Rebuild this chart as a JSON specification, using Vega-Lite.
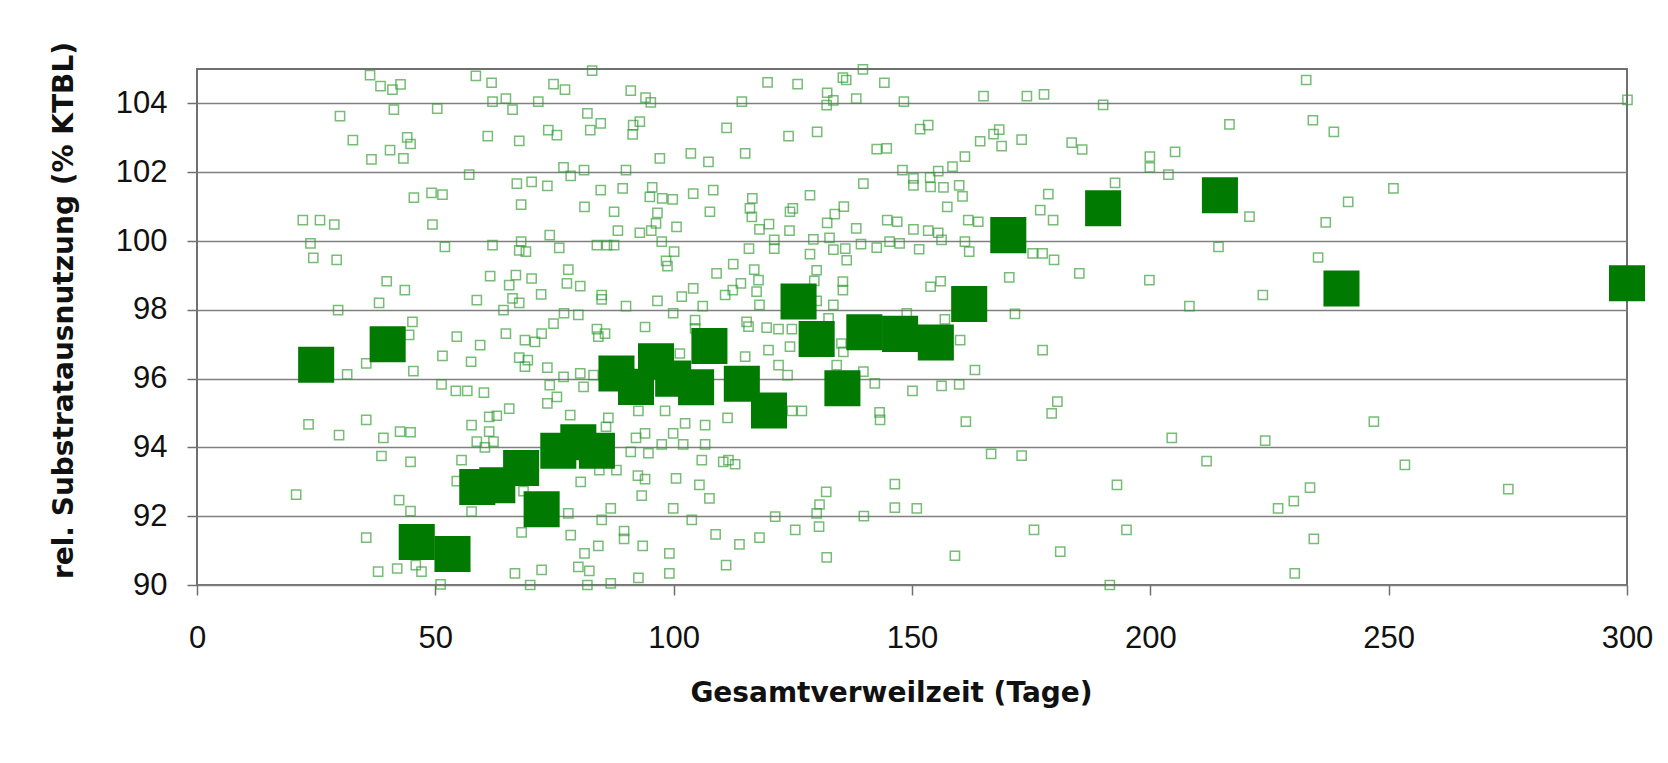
{
  "$schema": "https://vega.github.io/schema/vega-lite/v6.json",
  "width": 1430,
  "height": 516,
  "autosize": "none",
  "padding": {"left": 197, "top": 69, "right": 41, "bottom": 178},
  "background": "white",
  "config": {
    "view": {"stroke": "#707070", "strokeWidth": 2},
    "axis": {
      "labelFont": "Liberation Sans",
      "labelFontSize": 31,
      "labelColor": "#111111",
      "labelFlush": false,
      "labelOverlap": false,
      "titleFont": "DejaVu Sans",
      "titleFontSize": 28,
      "titleFontWeight": "bold",
      "titleColor": "#111111",
      "domain": false,
      "tickColor": "#707070",
      "tickWidth": 1.5,
      "tickSize": 10
    }
  },
  "datasets": {
    "einzel": [
      {"x":36.3,"y":104.82},{"x":38.5,"y":104.5},{"x":41.0,"y":104.4},{"x":42.7,"y":104.55},{"x":58.5,"y":104.8},{"x":61.8,"y":104.6},{"x":74.8,"y":104.56},{"x":30.0,"y":103.63},{"x":41.3,"y":103.82},{"x":50.4,"y":103.85},{"x":62.0,"y":104.05},{"x":64.8,"y":104.14},{"x":66.2,"y":103.82},{"x":71.6,"y":104.05},{"x":32.7,"y":102.93},{"x":44.1,"y":103.01},{"x":44.8,"y":102.82},{"x":40.5,"y":102.64},{"x":43.3,"y":102.4},{"x":36.6,"y":102.37},{"x":61.0,"y":103.05},{"x":67.6,"y":102.91},{"x":73.7,"y":103.22},{"x":57.1,"y":101.93},{"x":67.1,"y":101.67},{"x":70.2,"y":101.72},{"x":73.5,"y":101.6},{"x":45.5,"y":101.26},{"x":49.2,"y":101.4},{"x":51.5,"y":101.35},{"x":68.0,"y":101.06},{"x":22.2,"y":100.61},{"x":25.8,"y":100.61},{"x":28.8,"y":100.48},{"x":49.4,"y":100.48},{"x":23.8,"y":99.93},{"x":24.4,"y":99.51},{"x":29.3,"y":99.45},{"x":52.0,"y":99.83},{"x":62.0,"y":99.88},{"x":68.0,"y":99.98},{"x":67.6,"y":99.73},{"x":69.0,"y":99.69},{"x":74.0,"y":100.17},{"x":39.8,"y":98.83},{"x":43.6,"y":98.57},{"x":61.5,"y":98.98},{"x":66.9,"y":99.01},{"x":65.5,"y":98.72},{"x":70.2,"y":98.91},{"x":72.2,"y":98.45},{"x":58.7,"y":98.28},{"x":66.2,"y":98.33},{"x":67.6,"y":98.2},{"x":64.3,"y":97.99},{"x":38.2,"y":98.2},{"x":29.6,"y":97.99},{"x":45.2,"y":97.65},{"x":74.8,"y":97.6},
      {"x":82.9,"y":104.95},{"x":77.2,"y":104.4},{"x":91.0,"y":104.37},{"x":94.1,"y":104.17},{"x":95.2,"y":104.03},{"x":119.7,"y":104.61},{"x":126.0,"y":104.56},{"x":135.5,"y":104.75},{"x":136.2,"y":104.68},{"x":139.7,"y":104.99},{"x":144.2,"y":104.6},{"x":132.2,"y":104.31},{"x":133.5,"y":104.09},{"x":132.1,"y":103.95},{"x":138.3,"y":104.14},{"x":148.3,"y":104.05},{"x":114.3,"y":104.05},{"x":81.9,"y":103.71},{"x":82.5,"y":103.22},{"x":84.7,"y":103.42},{"x":75.5,"y":103.08},{"x":91.4,"y":103.1},{"x":91.5,"y":103.37},{"x":92.9,"y":103.47},{"x":111.1,"y":103.29},{"x":124.1,"y":103.05},{"x":130.1,"y":103.17},{"x":97.1,"y":102.4},{"x":103.6,"y":102.55},{"x":107.3,"y":102.3},{"x":115.0,"y":102.55},{"x":142.6,"y":102.67},{"x":144.7,"y":102.69},{"x":76.9,"y":102.14},{"x":78.4,"y":101.89},{"x":81.2,"y":102.06},{"x":90.0,"y":102.06},{"x":148.0,"y":102.06},{"x":84.7,"y":101.48},{"x":89.3,"y":101.53},{"x":95.5,"y":101.56},{"x":104.1,"y":101.38},{"x":108.3,"y":101.48},{"x":116.5,"y":101.24},{"x":128.6,"y":101.33},{"x":139.8,"y":101.67},{"x":81.3,"y":100.99},{"x":87.5,"y":100.85},{"x":95.0,"y":101.28},{"x":97.6,"y":101.24},{"x":99.8,"y":101.21},{"x":96.6,"y":100.82},{"x":107.6,"y":100.85},{"x":116.0,"y":100.95},{"x":116.4,"y":100.7},{"x":124.4,"y":100.85},{"x":125.0,"y":100.95},{"x":88.3,"y":100.3},{"x":92.9,"y":100.24},{"x":95.3,"y":100.3},{"x":96.3,"y":100.51},{"x":100.6,"y":100.41},{"x":118.0,"y":100.34},{"x":120.0,"y":100.49},{"x":124.3,"y":100.3},{"x":132.2,"y":100.53},{"x":133.8,"y":100.78},{"x":135.7,"y":101.0},{"x":138.3,"y":100.37},{"x":144.8,"y":100.61},{"x":146.9,"y":100.56},{"x":76.0,"y":99.8},{"x":83.9,"y":99.88},{"x":86.0,"y":99.88},{"x":87.5,"y":99.88},{"x":97.5,"y":99.98},{"x":100.1,"y":99.69},{"x":98.4,"y":99.42},{"x":98.7,"y":99.27},{"x":115.8,"y":99.78},{"x":121.1,"y":100.03},{"x":121.1,"y":99.78},{"x":128.6,"y":99.62},{"x":129.3,"y":100.05},{"x":132.7,"y":100.09},{"x":133.5,"y":99.75},{"x":136.0,"y":99.78},{"x":136.3,"y":99.44},{"x":139.3,"y":99.91},{"x":142.6,"y":99.81},{"x":145.3,"y":99.98},{"x":147.4,"y":99.93},{"x":77.9,"y":99.17},{"x":77.6,"y":98.77},{"x":80.4,"y":98.69},{"x":84.9,"y":98.43},{"x":84.9,"y":98.3},{"x":90.0,"y":98.11},{"x":96.6,"y":98.26},{"x":101.7,"y":98.38},{"x":104.1,"y":98.62},{"x":106.1,"y":98.11},{"x":109.0,"y":99.06},{"x":112.5,"y":99.33},{"x":110.8,"y":98.43},{"x":112.4,"y":98.57},{"x":114.1,"y":98.77},{"x":116.9,"y":99.17},{"x":117.8,"y":98.86},{"x":117.4,"y":98.53},{"x":118.0,"y":98.14},{"x":130.0,"y":99.15},{"x":129.5,"y":98.84},{"x":130.0,"y":98.26},{"x":133.5,"y":98.14},{"x":135.5,"y":98.82},{"x":135.5,"y":98.57},{"x":77.0,"y":97.9},{"x":80.0,"y":97.85},{"x":99.9,"y":97.9},{"x":104.5,"y":97.7},{"x":115.3,"y":97.65},{"x":148.9,"y":97.9},{"x":132.5,"y":97.75},
      {"x":165.0,"y":104.21},{"x":174.1,"y":104.21},{"x":177.7,"y":104.26},{"x":190.1,"y":103.96},{"x":216.6,"y":103.39},{"x":151.7,"y":103.25},{"x":153.4,"y":103.37},{"x":164.3,"y":102.9},{"x":167.1,"y":103.11},{"x":168.3,"y":103.24},{"x":168.8,"y":102.76},{"x":173.0,"y":102.95},{"x":183.5,"y":102.86},{"x":185.7,"y":102.66},{"x":161.1,"y":102.45},{"x":158.5,"y":102.16},{"x":155.5,"y":102.03},{"x":153.8,"y":101.85},{"x":150.3,"y":101.82},{"x":150.3,"y":101.62},{"x":153.9,"y":101.57},{"x":156.6,"y":101.56},{"x":159.9,"y":101.62},{"x":160.6,"y":101.3},{"x":157.4,"y":100.99},{"x":199.9,"y":102.45},{"x":199.9,"y":102.14},{"x":205.2,"y":102.59},{"x":203.8,"y":101.93},{"x":192.6,"y":101.69},{"x":178.6,"y":101.36},{"x":176.9,"y":100.9},{"x":179.6,"y":100.61},{"x":161.8,"y":100.61},{"x":163.9,"y":100.56},{"x":150.3,"y":100.34},{"x":153.4,"y":100.3},{"x":155.5,"y":100.24},{"x":156.2,"y":100.03},{"x":161.1,"y":99.98},{"x":151.5,"y":99.76},{"x":162.0,"y":99.69},{"x":175.3,"y":99.64},{"x":177.4,"y":99.64},{"x":179.8,"y":99.45},{"x":170.4,"y":98.94},{"x":185.1,"y":99.06},{"x":199.8,"y":98.86},{"x":214.3,"y":99.83},{"x":220.8,"y":100.71},{"x":153.9,"y":98.67},{"x":156.0,"y":98.83},{"x":223.6,"y":98.43},{"x":171.6,"y":97.88},{"x":208.2,"y":98.11},{"x":156.9,"y":97.72},
      {"x":232.7,"y":104.68},{"x":234.1,"y":103.51},{"x":238.5,"y":103.17},{"x":251.0,"y":101.53},{"x":241.5,"y":101.14},{"x":236.8,"y":100.54},{"x":235.2,"y":99.52},{"x":300.1,"y":104.1},
      {"x":44.5,"y":97.27},{"x":54.5,"y":97.22},{"x":59.4,"y":96.97},{"x":64.8,"y":97.31},{"x":68.8,"y":97.12},{"x":70.9,"y":97.07},{"x":72.3,"y":97.31},{"x":51.5,"y":96.66},{"x":57.5,"y":96.49},{"x":67.6,"y":96.61},{"x":69.4,"y":96.54},{"x":68.8,"y":96.35},{"x":73.5,"y":96.32},{"x":35.5,"y":96.44},{"x":31.5,"y":96.12},{"x":45.4,"y":96.22},{"x":51.3,"y":95.83},{"x":54.3,"y":95.64},{"x":56.7,"y":95.64},{"x":60.2,"y":95.59},{"x":74.0,"y":95.81},{"x":73.5,"y":95.28},{"x":65.5,"y":95.13},{"x":62.9,"y":94.92},{"x":61.3,"y":94.89},{"x":57.6,"y":94.65},{"x":61.3,"y":94.46},{"x":62.2,"y":94.17},{"x":58.7,"y":94.17},{"x":60.4,"y":94.0},{"x":23.4,"y":94.67},{"x":35.5,"y":94.8},{"x":29.8,"y":94.36},{"x":39.1,"y":94.28},{"x":42.6,"y":94.46},{"x":44.8,"y":94.44},{"x":38.7,"y":93.75},{"x":44.8,"y":93.58},{"x":55.5,"y":93.63},{"x":54.5,"y":93.02},{"x":20.8,"y":92.63},{"x":42.4,"y":92.47},{"x":44.8,"y":92.15},{"x":57.6,"y":92.13},{"x":68.5,"y":92.73},{"x":68.1,"y":91.53},{"x":35.5,"y":91.38},{"x":38.0,"y":90.39},{"x":42.0,"y":90.48},{"x":45.9,"y":90.58},{"x":47.1,"y":90.39},{"x":51.1,"y":90.02},{"x":66.7,"y":90.34},{"x":72.3,"y":90.44},{"x":69.9,"y":90.0},
      {"x":83.9,"y":97.44},{"x":85.6,"y":97.31},{"x":94.0,"y":97.5},{"x":84.2,"y":97.22},{"x":104.5,"y":97.46},{"x":115.7,"y":97.51},{"x":119.5,"y":97.48},{"x":122.0,"y":97.44},{"x":124.8,"y":97.44},{"x":119.9,"y":96.83},{"x":115.0,"y":96.64},{"x":124.4,"y":96.93},{"x":135.2,"y":97.02},{"x":135.6,"y":96.78},{"x":101.3,"y":96.73},{"x":122.0,"y":96.39},{"x":123.9,"y":96.1},{"x":80.4,"y":96.15},{"x":76.9,"y":96.05},{"x":83.2,"y":96.1},{"x":81.1,"y":95.76},{"x":75.5,"y":95.47},{"x":134.2,"y":96.39},{"x":139.8,"y":96.2},{"x":142.2,"y":95.86},{"x":124.8,"y":95.06},{"x":126.9,"y":95.06},{"x":143.2,"y":95.02},{"x":143.3,"y":94.8},{"x":78.3,"y":94.94},{"x":86.3,"y":94.86},{"x":85.8,"y":94.6},{"x":92.6,"y":95.06},{"x":98.2,"y":95.06},{"x":94.0,"y":94.41},{"x":92.1,"y":94.28},{"x":99.9,"y":94.41},{"x":102.4,"y":94.7},{"x":106.6,"y":94.65},{"x":111.3,"y":94.86},{"x":97.5,"y":94.09},{"x":102.0,"y":94.09},{"x":106.6,"y":94.09},{"x":91.0,"y":93.87},{"x":94.7,"y":93.83},{"x":88.0,"y":93.34},{"x":84.4,"y":93.34},{"x":105.9,"y":93.63},{"x":110.4,"y":93.58},{"x":111.5,"y":93.63},{"x":112.9,"y":93.51},{"x":92.5,"y":93.18},{"x":94.0,"y":93.08},{"x":80.5,"y":93.0},{"x":100.5,"y":93.1},{"x":105.4,"y":92.91},{"x":107.5,"y":92.52},{"x":93.3,"y":92.6},{"x":86.8,"y":92.23},{"x":84.9,"y":91.89},{"x":77.9,"y":92.08},{"x":99.9,"y":92.23},{"x":103.8,"y":91.89},{"x":121.3,"y":91.99},{"x":130.0,"y":92.08},{"x":130.6,"y":92.34},{"x":132.0,"y":92.71},{"x":139.9,"y":92.0},{"x":146.4,"y":92.25},{"x":146.4,"y":92.93},{"x":130.5,"y":91.7},{"x":125.5,"y":91.6},{"x":118.0,"y":91.38},{"x":113.8,"y":91.18},{"x":108.8,"y":91.47},{"x":78.4,"y":91.45},{"x":89.6,"y":91.57},{"x":89.6,"y":91.34},{"x":84.2,"y":91.14},{"x":93.5,"y":91.14},{"x":99.1,"y":90.92},{"x":81.3,"y":90.92},{"x":80.0,"y":90.53},{"x":82.3,"y":90.41},{"x":111.0,"y":90.58},{"x":132.1,"y":90.8},{"x":99.1,"y":90.34},{"x":92.6,"y":90.21},{"x":81.9,"y":90.0},{"x":86.8,"y":90.05},
      {"x":160.1,"y":97.12},{"x":177.4,"y":96.83},{"x":163.2,"y":96.25},{"x":150.1,"y":95.64},{"x":156.2,"y":95.79},{"x":159.9,"y":95.83},{"x":180.5,"y":95.33},{"x":179.3,"y":94.99},{"x":161.3,"y":94.75},{"x":204.5,"y":94.28},{"x":224.1,"y":94.2},{"x":166.6,"y":93.81},{"x":173.0,"y":93.76},{"x":211.8,"y":93.6},{"x":193.0,"y":92.91},{"x":151.0,"y":92.23},{"x":175.6,"y":91.6},{"x":195.0,"y":91.6},{"x":159.0,"y":90.85},{"x":181.1,"y":90.97},{"x":191.5,"y":90.0},
      {"x":246.9,"y":94.75},{"x":253.4,"y":93.49},{"x":275.1,"y":92.79},{"x":233.5,"y":92.83},{"x":230.1,"y":92.44},{"x":226.8,"y":92.23},{"x":234.3,"y":91.34},{"x":230.3,"y":90.34}
    ],
    "mittel": [
      {"x":25.0,"y":96.4},{"x":40.0,"y":97.0},{"x":46.1,"y":91.25},{"x":53.6,"y":90.9},{"x":58.8,"y":92.85},{"x":63.0,"y":92.9},{"x":68.0,"y":93.4},{"x":72.3,"y":92.2},{"x":75.8,"y":93.9},{"x":80.0,"y":94.15},{"x":83.9,"y":93.9},{"x":88.0,"y":96.15},{"x":92.1,"y":95.76},{"x":96.3,"y":96.5},{"x":99.9,"y":96.0},{"x":104.7,"y":95.75},{"x":107.5,"y":96.95},{"x":114.3,"y":95.85},{"x":120.0,"y":95.07},{"x":126.2,"y":98.24},{"x":130.0,"y":97.15},{"x":135.4,"y":95.72},{"x":140.0,"y":97.35},{"x":147.5,"y":97.3},{"x":155.0,"y":97.05},{"x":162.0,"y":98.17},{"x":170.2,"y":100.17},{"x":190.1,"y":100.95},{"x":214.6,"y":101.33},{"x":240.1,"y":98.62},{"x":300.0,"y":98.77}
    ]
  },
  "layer": [
    {
      "data": {"name": "einzel"},
      "mark": {"type": "point", "shape": "square", "filled": false, "size": 85, "stroke": "#2f9a2f", "strokeWidth": 1.5, "opacity": 0.65, "clip": false},
      "encoding": {
        "x": {
          "field": "x", "type": "quantitative",
          "scale": {"domain": [0, 300], "nice": false, "zero": false},
          "axis": {"values": [0, 50, 100, 150, 200, 250, 300], "grid": false, "labelPadding": 28,
                   "title": "Gesamtverweilzeit (Tage)", "titleX": 694, "titleY": 116, "titleBaseline": "alphabetic", "titleAlign": "center", "titleAnchor": null}
        },
        "y": {
          "field": "y", "type": "quantitative",
          "scale": {"domain": [90, 105], "nice": false, "zero": false},
          "axis": {"values": [90, 92, 94, 96, 98, 100, 102, 104], "grid": true, "gridColor": "#808080", "gridWidth": 1.5, "labelPadding": 20,
                   "title": "rel. Substratausnutzung (% KTBL)", "titleX": -125, "titleY": 241, "titleBaseline": "alphabetic", "titleAlign": "center", "titleAnchor": null, "titleAngle": -90}
        }
      }
    },
    {
      "data": {"name": "mittel"},
      "mark": {"type": "point", "shape": "square", "filled": true, "size": 1300, "color": "#007a00", "opacity": 1, "clip": false},
      "encoding": {
        "x": {"field": "x", "type": "quantitative"},
        "y": {"field": "y", "type": "quantitative"}
      }
    }
  ]
}
